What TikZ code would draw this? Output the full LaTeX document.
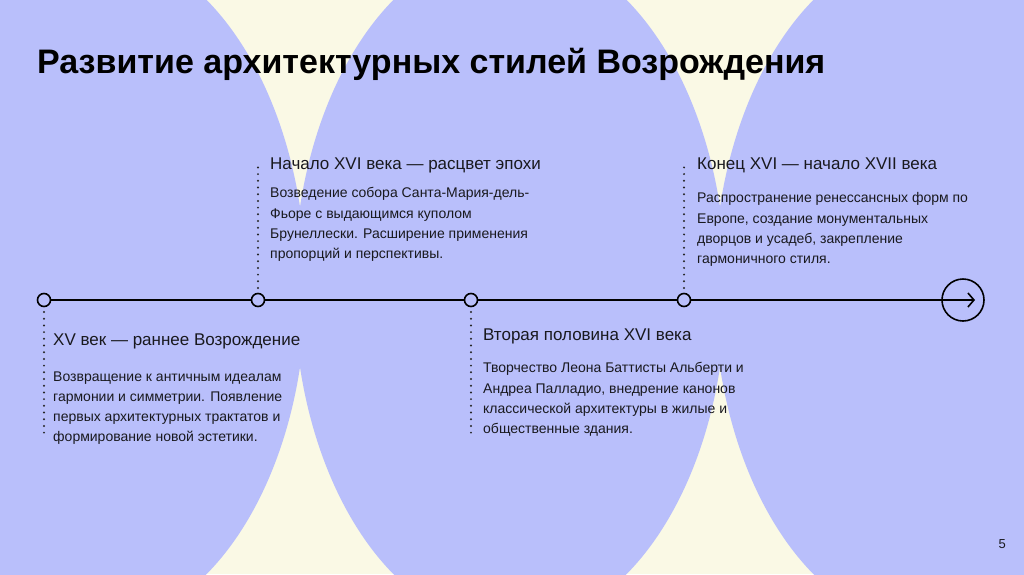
\documentclass[tikz,border=0pt]{standalone}
\usepackage{fontspec}
\setmainfont{Liberation Sans}
\usepackage{tikz}
\usetikzlibrary{arrows.meta,positioning,calc}
\definecolor{lav}{RGB}{185,191,251}
\definecolor{cream}{RGB}{250,249,229}
\definecolor{ink}{RGB}{25,25,30}

\begin{document}
\begin{tikzpicture}[
  x=1pt, y=1pt,
  blob/.style={fill=lav, draw=none},
  tdot/.style={circle, draw=black, line width=1.6pt, fill=lav,
    minimum size=13pt, inner sep=0pt},
  tend/.style={circle, draw=black, line width=1.6pt,
    minimum size=42pt, inner sep=0pt},
  axis/.style={line width=1.6pt, black},
  dots/.style={line width=2.2pt, line cap=round, black!85,
    dash pattern=on 0pt off 6.7pt},
  head/.style={anchor=base west, inner sep=0pt, text=ink,
    font=\fontsize{17}{20}\selectfont},
  body/.style={anchor=north west, inner sep=0pt, align=left, text=ink,
    font=\fontsize{14}{20.2}\selectfont},
]
\useasboundingbox (0,0) rectangle (1024,-574);

% background
\begin{scope}
  \clip (0,0) rectangle (1024,-574);
  \fill[cream] (0,0) rectangle (1024,-574);
  \fill[blob] (90,-287) ellipse [x radius=216pt, y radius=341pt];
  \fill[blob] (510,-287) ellipse [x radius=216pt, y radius=341pt];
  \fill[blob] (930,-287) ellipse [x radius=216pt, y radius=341pt];
\end{scope}

\node[anchor=base west, inner sep=0pt, font=\fontsize{34}{38}\selectfont\bfseries]
  (title) at (37,-73) {Развитие архитектурных стилей Возрождения};

% timeline
\node[tdot] (t1) at (44,-300) {};
\node[tdot] (t2) at (258,-300) {};
\node[tdot] (t3) at (471,-300) {};
\node[tdot] (t4) at (684,-300) {};
\node[tend] (te) at (963,-300) {};
\coordinate (tip) at (975,-300);

\draw[axis] (t1) -- (t2);
\draw[axis] (t2) -- (t3);
\draw[axis] (t3) -- (t4);
\draw[axis,-{Straight Barb[length=6pt,width=14pt,line width=1.6pt]}] (t4) -- (tip);

\coordinate (d1) at (44,-436);
\coordinate (d2) at (258,-162);
\coordinate (d3) at (471,-436);
\coordinate (d4) at (684,-162);
\draw[dots] (44,-312) -- (d1);
\draw[dots] (258,-288) -- (d2);
\draw[dots] (471,-312) -- (d3);
\draw[dots] (684,-288) -- (d4);

% texts
\node[head] (h1) at (53,-345) {XV век — раннее Возрождение};
\node[body] (b1) at (53,-371.5) {Возвращение к античным идеалам\\гармонии и симметрии. Появление\\первых архитектурных трактатов и\\формирование новой эстетики.};

\node[head] (h2) at (270,-169) {Начало XVI века — расцвет эпохи};
\node[body] (b2) at (270,-187.5) {Возведение собора Санта-Мария-дель-\\Фьоре с выдающимся куполом\\Брунеллески. Расширение применения\\пропорций и перспективы.};

\node[head] (h3) at (483,-340) {Вторая половина XVI века};
\node[body] (b3) at (483,-362.5) {Творчество Леона Баттисты Альберти и\\Андреа Палладио, внедрение канонов\\классической архитектуры в жилые и\\общественные здания.};

\node[head] (h4) at (697,-169) {Конец XVI — начало XVII века};
\node[body] (b4) at (697,-192.5) {Распространение ренессансных форм по\\Европе, создание монументальных\\дворцов и усадеб, закрепление\\гармоничного стиля.};

\node[anchor=base east, inner sep=0pt, text=ink, font=\fontsize{13}{15}\selectfont]
  (pg) at (1006,-548) {5};
\end{tikzpicture}
\end{document}
